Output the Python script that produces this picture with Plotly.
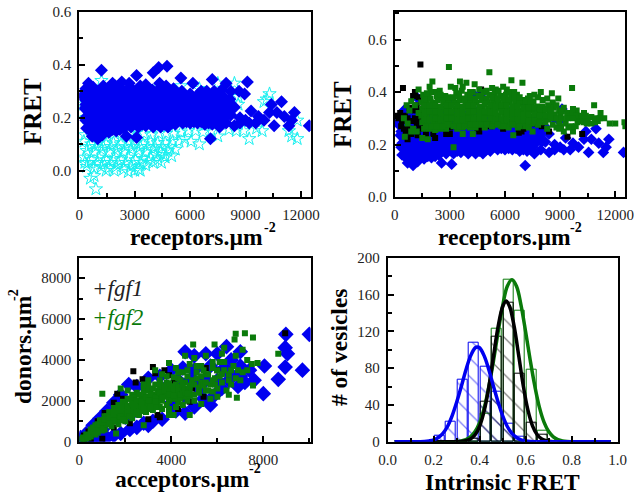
import plotly.graph_objects as go

# ---------- panel A / B shared blue series (receptors, FRET) ----------
blue_rf = [
(1200,.38),(4000,.37),(4300,.39),(4750,.395),(3100,.36),(5500,.35),(6150,.33),(7200,.345),(7950,.33),(9100,.335),
(8650,.30),(8950,.29),(8200,.30),(500,.33),(2300,.335),(1800,.33),(3600,.325),(4350,.33),(12450,.17),(11650,.22),
(11500,.19),(11100,.205),(11350,.17),(10950,.26),(10400,.25),(10700,.22),(10550,.17),(10000,.19),(9700,.205),(9300,.225),
(9550,.18),(9000,.19),(8700,.18),(8400,.17),(8200,.21),(8000,.25),(7100,.12),(2550,.13),(3100,.125),(1000,.12),
(700,.13),(400,.16),(150,.28),(9200,.18),(10300,.22),
(350,.31),(750,.315),(1150,.30),(1550,.31),(1950,.32),(2350,.305),(2750,.315),(3150,.30),(3550,.31),(3950,.305),
(4350,.31),(4750,.30),(5150,.295),(5550,.30),(6000,.29),(6900,.30),(7300,.30),(7700,.305),
(200,.285),(600,.28),(1000,.275),(1400,.285),(1800,.28),(2200,.275),(2600,.285),(3000,.28),(3400,.275),(3800,.285),
(4200,.28),(4600,.275),(5000,.28),(5400,.275),(5800,.28),(6200,.27),(6600,.275),(7000,.28),(7400,.27),(7800,.28),(8150,.27),
(350,.25),(750,.25),(1150,.245),(1550,.255),(1950,.25),(2350,.245),(2750,.255),(3150,.25),(3550,.245),(3950,.255),
(4350,.25),(4750,.245),(5150,.255),(5550,.25),(5950,.245),(6350,.25),(6750,.245),(7150,.25),(7550,.25),(7950,.24),
(550,.22),(950,.22),(1350,.215),(1750,.225),(2150,.22),(2550,.215),(2950,.225),(3350,.22),(3750,.215),(4150,.225),
(4550,.22),(4950,.215),(5350,.225),(5750,.22),(6150,.215),(6550,.225),(6950,.22),(7350,.215),(7750,.22),(8000,.21),
(350,.19),(750,.19),(1150,.19),(1550,.195),(1950,.19),(2350,.185),(2750,.195),(3150,.19),(3550,.185),(3950,.195),
(4350,.19),(4750,.185),(5150,.195),(5550,.19),(5950,.195),(6350,.19),(6750,.195),(7150,.19),(7500,.19),
(800,.16),(1200,.165),(1600,.16),(2000,.165),(2400,.16),(2800,.165),(3200,.165),(3600,.17),(4000,.165),(4400,.165),
(4800,.165),(5200,.175),(5600,.18),(6000,.18),(6400,.18),(6800,.175),(7200,.175),
(1250,.135),(1600,.145),(2000,.15),(900,.14),
(500,.295),(900,.30),(1300,.30),(1700,.295),(2100,.30),(2500,.295),(2900,.30),(3300,.295),(3700,.295),(4100,.295),(4500,.29),(4900,.29),(5300,.285),(5700,.285),(6100,.28),(6450,.29),(6800,.285),(7150,.285),(7550,.29),
(450,.265),(850,.26),(1250,.265),(1650,.265),(2050,.26),(2450,.265),(2850,.265),(3250,.265),(3650,.26),(4050,.265),(4450,.265),(4850,.26),(5250,.265),(5650,.265),(6050,.26),(6450,.26),(6850,.26),(7250,.265),(7650,.26),(8050,.26),
(300,.235),(700,.235),(1100,.23),(1500,.235),(1900,.235),(2300,.23),(2700,.235),(3100,.235),(3500,.23),(3900,.235),(4300,.235),(4700,.23),(5100,.235),(5500,.235),(5900,.23),(6300,.235),(6700,.235),(7100,.235),(7500,.23),(7900,.23),
(400,.205),(800,.205),(1200,.20),(1600,.205),(2000,.205),(2400,.20),(2800,.205),(3200,.205),(3600,.20),(4000,.205),(4400,.205),(4800,.20),(5200,.205),(5600,.205),(6000,.205),(6400,.205),(6800,.205),(7200,.205),(7600,.20),
(600,.175),(1000,.175),(1400,.175),(1800,.175),(2200,.175),(2600,.18),(3000,.18),(3400,.175),(3800,.18),(4200,.18),(4600,.175),(5000,.18),(5400,.19),(5800,.185),(6200,.185),(6600,.185),(7000,.18),(7400,.18),
(1100,.15),(1400,.15),(1800,.155),(2200,.155),(600,.15),
(8400,.24),(8700,.20),(7950,.18),(7600,.165),(1300,.32),(2700,.33),(3300,.32),(4700,.32),(5100,.31),(6600,.30),
]

cyan_rf = [
(1200,.34),(8400,.33),(8600,.25),(10000,.26),(10300,.29),(5500,.32),(6500,.31),(7500,.33),(150,.25),(400,.20),
(100,.22),(600,-.03),(900,-.07),(300,.03),(11500,.13),(11800,.12),(11800,.19),(9200,.12),(9900,.15),(10150,.27),
(9600,.16),(8500,.15),(8100,.155),(8900,.15),(7500,.13),(7150,.15),(6500,.10),(6050,.11),(5700,.12),(5400,.11),
(11350,.15),(8600,.28),(4200,.315),(6900,.175),
(250,.11),(650,.10),(1050,.105),(1450,.10),(1850,.105),(2250,.10),(2650,.11),(3050,.105),(3450,.10),(3850,.11),(4250,.105),(4650,.105),(5050,.11),
(400,.075),(800,.07),(1200,.08),(1600,.07),(2000,.075),(2400,.07),(2800,.08),(3200,.075),(3600,.07),(4000,.08),(4400,.07),(4800,.075),(5200,.08),
(250,.05),(650,.04),(1050,.05),(1450,.04),(1850,.045),(2250,.04),(2650,.05),(3050,.04),(3450,.045),(3850,.05),(4250,.04),(4650,.05),(5000,.055),
(400,.015),(800,.01),(1200,.015),(1600,.01),(2000,.015),(2400,.005),(2800,.015),(3200,.005),(3600,.02),(4000,.03),(4450,.03),
(800,-.02),(1450,.0),(1900,.0),(3000,.0),(2650,-.005),(3300,.0),
(300,.135),(700,.13),(1100,.14),(1500,.135),(1900,.14),(2300,.13),(2700,.14),(3100,.145),(3500,.14),(3900,.135),(4300,.14),(4700,.14),(5100,.14),(5500,.145),(5900,.15),(6300,.15),(6700,.145),
(500,.09),(900,.09),(1300,.09),(1700,.09),(2100,.085),(2500,.09),(2900,.09),(3300,.09),(3700,.09),(4100,.09),(4500,.09),(4900,.09),
(500,.03),(1000,.03),(1300,.03),(1700,.03),(2100,.03),(2500,.03),(2900,.03),(3300,.03),(3750,.035),(4150,.06),(4550,.06),
]

# ---------- panel B ----------
black_rf = [
(1400,.505),(450,.415),(1100,.40),(1000,.385),(4700,.41),(2400,.39),(2200,.225),(3000,.24),(2800,.24),(4600,.25),
(6900,.25),(6750,.245),(8400,.25),(9400,.23),(10200,.24),(3000,.265),(5900,.26),(4700,.27),(100,.31),(200,.30),
(300,.32),(400,.29),(500,.26),(600,.245),(700,.22),(800,.26),(900,.24),(1000,.29),(1100,.30),(1200,.28),
(1300,.30),(1350,.26),(1400,.33),(1450,.36),(1500,.31),(1250,.235),(1050,.25),(700,.30),(550,.31),(350,.27),
(1200,.35),(1300,.38),(1100,.33),(800,.34),(1550,.28),(1700,.24),(2100,.24),(3300,.27),(4500,.26),(5200,.27),
(6000,.28),(7000,.26),(7600,.28),(8000,.27),
]

green_rf = [
(2950,.495),(5150,.475),(1900,.42),(2050,.44),(3550,.44),(3900,.435),(4350,.43),(6350,.445),(6950,.435),(9650,.415),
(5500,.41),(5900,.42),(6100,.41),(7600,.39),(7950,.40),(8550,.395),(8900,.375),(8600,.36),(10850,.35),(11200,.32),
(11400,.30),(11700,.28),(12000,.28),(12500,.285),(12550,.27),(11050,.29),(10700,.28),(10900,.285),(3200,.19),(4250,.24),
(3700,.24),(1500,.225),(1800,.22),(6450,.235),(550,.23),(9700,.25),(9200,.25),(8300,.26),(7500,.25),(8800,.265),
(10000,.29),(10500,.30),(10300,.32),(9900,.33),(9500,.31),(9200,.34),(9700,.335),(10200,.30),(9300,.28),(9600,.27),
(500,.30),(700,.28),(800,.33),(900,.365),(1100,.35),(650,.35),(1000,.26),(1200,.25),(900,.25),(1300,.32),
(1550,.39),(1850,.385),(2150,.40),(2450,.405),(2750,.385),(3050,.42),(3350,.395),(3650,.405),(3950,.39),(4250,.40),(4550,.385),(4850,.40),(5150,.39),(5450,.395),(5750,.385),(6050,.39),(6350,.38),(6650,.39),(6950,.37),(7250,.375),(7550,.365),(8050,.37),
(1450,.36),(1750,.365),(2050,.36),(2350,.37),(2650,.36),(2950,.365),(3250,.36),(3550,.37),(3850,.36),(4150,.365),(4450,.36),(4750,.37),(5050,.36),(5350,.365),(5650,.36),(5950,.365),(6250,.36),(6550,.36),(6850,.355),(7150,.35),(7450,.35),(7750,.345),(8050,.345),(8350,.35),(8650,.34),(8950,.33),
(1500,.335),(1800,.335),(2100,.34),(2400,.33),(2700,.335),(3000,.34),(3300,.335),(3600,.33),(3900,.34),(4200,.335),(4500,.33),(4800,.34),(5100,.335),(5400,.33),(5700,.34),(6000,.335),(6300,.33),(6600,.335),(6900,.33),(7200,.325),(7500,.33),(7800,.32),(8100,.325),(8400,.32),(8700,.315),(9000,.31),
(1450,.31),(1750,.31),(2050,.315),(2350,.305),(2650,.31),(2950,.315),(3250,.31),(3550,.305),(3850,.31),(4150,.315),(4450,.305),(4750,.31),(5050,.315),(5350,.305),(5650,.31),(5950,.305),(6250,.31),(6550,.305),(6850,.31),(7150,.30),(7450,.305),(7750,.30),(8050,.30),(8350,.295),(8650,.30),(8950,.285),
(1500,.285),(1800,.285),(2100,.29),(2400,.28),(2700,.285),(3000,.29),(3300,.285),(3600,.28),(3900,.29),(4200,.285),(4500,.28),(4800,.29),(5100,.285),(5400,.28),(5700,.285),(6000,.28),(6300,.285),(6600,.28),(6900,.285),(7200,.275),(7500,.28),(7800,.275),
(1600,.26),(1900,.26),(2200,.255),(2500,.26),(2800,.26),(3400,.26),(3700,.265),(4100,.265),(4400,.265),(4900,.265),(5300,.27),(5800,.27),(6200,.265),(6700,.265),(7100,.27),
(1600,.375),(1950,.375),(2300,.385),(2600,.375),(2900,.38),(3200,.38),(3500,.385),(3800,.375),(4100,.38),(4400,.375),(4700,.385),(5000,.375),(5300,.38),(5600,.375),(5900,.375),(6200,.37),(6500,.375),(6800,.365),(7100,.365),(7400,.36),
(1600,.35),(1900,.35),(2200,.35),(2500,.345),(2800,.35),(3100,.35),(3400,.35),(3700,.345),(4000,.35),(4300,.35),(4600,.345),(4900,.355),(5200,.35),(5500,.345),(5800,.35),(6100,.35),(6400,.345),(6700,.345),(7000,.34),(7300,.34),(7600,.34),(7900,.33),(8200,.335),(8500,.33),
(1600,.32),(1900,.325),(2200,.325),(2500,.32),(2800,.325),(3100,.325),(3400,.32),(3700,.32),(4000,.325),(4300,.325),(4600,.32),(4900,.325),(5200,.32),(5500,.32),(5800,.325),(6100,.32),(6400,.32),(6700,.32),(7000,.315),(7300,.315),(7600,.315),(7900,.31),(8200,.31),(8500,.305),(8800,.30),
(1600,.295),(1900,.295),(2200,.30),(2500,.295),(2800,.30),(3100,.30),(3400,.295),(3700,.295),(4000,.30),(4300,.295),(4600,.295),(4900,.30),(5200,.30),(5500,.295),(5800,.295),(6100,.295),(6400,.295),(6700,.295),(7000,.295),(7300,.29),(7600,.29),(7900,.285),(8200,.285),
(1700,.27),(2000,.27),(2300,.27),(2600,.27),(2900,.275),(3200,.27),(3500,.27),(3800,.27),(4100,.275),(4400,.275),(4700,.275),(5000,.275),(5300,.27),(5600,.275),(5900,.27),(6400,.275),(6800,.27),(7300,.265),
(3300,.415),(3700,.42),(4100,.40),(4600,.41),(5000,.405),(5300,.415),(5650,.405),(6250,.40),(6500,.40),(6800,.38),(7350,.385),(7800,.38),(8300,.375),(8800,.35),
(9100,.325),(9400,.32),(9650,.32),(9900,.31),(10150,.31),(10400,.31),(10700,.305),(10950,.30),(11150,.30),(9100,.30),(9400,.30),(9700,.30),(9950,.285),(10300,.285),(9050,.27),(9450,.265),(8600,.275),(8950,.26),(9850,.27),(10450,.28),
(1300,.41),(1950,.40),(2500,.39),(1750,.395),
]

# ---------- panel C (acceptors, donors) ----------
blue_ad = [
(8000,2350),(8050,3700),(8650,3050),(8950,3650),(8950,4600),(8980,5250),(9050,4300),(9700,3500),(10000,5250),(2150,2800),
(4600,4400),(6400,4650),(6600,4000),(7400,3500),(7600,3000),(6500,3000),(5700,1800),(4600,1400),(3000,800),(2500,700),
(1800,400),(1200,200),(600,100),(100,100),(0,0),(50,200),(300,400),(600,800),(900,1150),(1200,1500),
(1500,1900),(1800,2300),(2500,2700),(3000,3100),(3500,3200),(4000,3500),(5000,4200),(5500,4300),(6000,4300),(7000,4400),
(7000,3200),(6200,2600),(5400,2100),(5000,1700),(4200,1500),(3600,1100),(2200,600),(1500,300),(900,150),(400,80),
(7200,2900),(6900,2700),(5900,2300),(3200,1000),(2800,900),(3800,2700),(4800,3000),(5500,3000),(1000,600),(2000,1200),
(6300,3600),(5700,3700),(5000,3500),(4300,3000),(3600,2400),(3000,1800),(2400,1500),(6600,3300),(6000,3000),(5300,2500),(4600,2200),(4000,1900),(5000,2800),(7000,3700),(4500,3600),
]

black_ad = [
(2350,3450),(1650,2350),(3200,3650),(3700,3500),(3900,3250),(4800,1950),(3500,1200),(5500,3600),(8950,5300),(1000,150),
(1300,1100),(600,600),(2750,3050),(3300,3350),(2450,2900),(1900,2100),(1500,1900),(1100,1400),(800,1000),(400,500),
(200,300),(500,150),(2200,900),(3000,1100),(3400,1300),(4300,1600),(5400,2200),(4900,2600),(4100,2900),(200,100),
(6000,3500),(2500,1500),(1500,700),
]

green_ad = [
(1000,2350),(1800,2600),(2100,2500),(4950,4750),(5880,4750),(6800,5280),(7200,5300),(7550,5100),(6750,5000),(6300,4600),
(7100,4500),(8650,4300),(3900,3850),(4200,3600),(4600,4200),(5000,4100),(5500,4200),(7300,4000),(7750,3850),(7500,3800),
(7300,3500),(6900,3500),(7000,3000),(7550,2750),(6850,2150),(6500,2300),(6000,2200),(5300,1850),(4800,1300),(4100,1300),
(3900,1300),(2800,800),(1600,400),(6200,4300),(6800,4200),(5800,3900),(5300,3700),(4800,3800),(6300,3900),(6700,3700),
(6000,3500),(5500,3300),(5100,3400),(4500,3400),(4300,3100),(3600,3300),(3300,3500),(3000,3000),(7100,3400),(6500,3300),
(6600,2800),(6200,2900),(5700,2800),(5300,2900),(4900,3000),(4600,2900),(4200,2800),(3800,2900),(3500,2700),(6000,2600),
(5500,2500),(5200,2400),(4800,2500),(4500,2400),(4200,2300),(3800,2400),(5700,2100),(5000,2000),(4700,2000),(4300,1900),
(3900,2000),(3500,2200),(3100,2500),(2800,2600),(2500,2400),(2300,2300),(2100,2100),(1900,1950),(1700,1800),(1500,1650),
(1300,1450),(1100,1250),(900,1050),(700,800),(500,600),(300,350),(150,200),(300,150),(500,250),(800,450),
(1100,600),(1400,750),(1700,850),(2000,1000),(2300,1150),(2600,1300),(2900,1450),(3200,1550),(3500,1700),(3800,1800),
(2700,2100),(3000,2200),(3300,2300),(2600,1800),(2900,1900),(3200,2000),(2300,1700),(2000,1500),(1700,1300),(1400,1100),
(1100,850),(800,650),(2300,2000),(2000,1800),(1700,1550),(1400,1300),(1200,1000),(900,800),(3600,2000),(3400,1800),
(2600,1550),(2200,1350),(1900,1200),(1600,1000),(600,400),(400,300),(2900,1650),(3200,1800),
(1000,1050),(1200,1250),(1400,1450),(1600,1650),(1800,1700),(2000,1900),(2200,2100),(2400,2150),(2600,2300),(2800,2350),(3000,2500),(3200,2600),(3400,2500),(3600,2600),(3800,2650),(4000,2700),(4200,2500),(4400,2700),(4600,2600),(4800,2750),
(1000,750),(1200,850),(1400,950),(1600,1150),(1800,1350),(2000,1300),(2200,1500),(2400,1600),(2600,1650),(2800,1750),(3000,1800),(3200,2200),(3400,2050),(3600,2300),(3800,2200),(4000,2100),(4200,2100),(4400,2100),(4600,2200),(4800,2250),
(700,550),(500,450),(350,250),(200,150),(100,120),(600,700),(800,850),(1000,950),(1200,1150),(1500,1250),(1800,1050),(2100,1250),(2400,1350),(2700,1500),(3000,1600),(3300,1700),(3600,1600),(3900,1600),(4200,1700),(4500,1800),
(5000,2300),(5200,2650),(5000,2800),(5400,2750),(5600,2500),(5800,2450),(5900,3100),(5600,3300),(5300,3200),(4700,3200),(4400,3000),(4100,3150),(3800,3200),(3500,3000),(3300,2800),(3000,2750),(2800,2800),(6400,2500),(6300,3500),(6800,3100),
(1100,1100),(1300,1200),(1500,1400),(1700,1500),(1900,1650),(2100,1750),(2300,1850),(2500,2000),(2700,1950),(2900,2150),(3100,2300),(3300,2150),(3500,2400),(3700,2500),(3900,2450),(4100,2500),(4300,2400),(1500,1050),(1800,1250),(2100,1400),
(2400,1800),(2700,1700),(3000,2000),(3300,1950),(3600,2150),(3900,2300),(4100,2250),(4400,2300),(4600,2400),(3100,1700),(2800,1600),(2500,1450),(2200,1250),(1900,1100),(1300,900),(1000,550),(700,350),(400,200),(4500,2550),(4700,2350),
(3500,2850),(3700,2750),(3900,2850),(4100,2700),(4300,2650),(4500,2800),(5100,3100),(5500,2900),(5800,3000),(6100,3200),(6500,3000),(5900,2800),(5400,3500),(5800,3600),(6100,3900),(5100,3700),(4700,3500),(4300,3400),(6600,3500),(6200,3300),
]

# ---------- panel D ----------
hist_x = [.225,.275,.325,.375,.425,.475,.525,.575,.625,.675]
hist_blue = [6,22,67,108,81,54,20,5,0,0]
hist_black = [0,0,0,3,44,114,151,74,21,8]
hist_green = [0,0,0,0,30,123,176,142,78,12]

fit_x_blue = [.03,.10,.16,.18,.20,.22,.24,.26,.28,.30,.32,.34,.36,.38,.39,.40,.42,.44,.46,.48,.50,.52,.54,.56,.58,.60,.62,.66,.97]
fit_y_blue = [0,0,.3,.9,2,4.5,9,16.5,28,43,60,78,93,102,103,102,93,78,60,43,28,16.5,9,4.5,2,.9,.3,0,0]
fit_x_black = [.03,.28,.32,.34,.36,.38,.40,.42,.44,.46,.48,.50,.515,.53,.55,.57,.59,.61,.63,.65,.67,.69,.71,.75,.97]
fit_y_black = [0,0,.3,1,2.9,7.5,17,34,60,93,125,147,153,147,125,93,60,34,17,7.5,2.9,1,.3,0,0]
fit_x_green = [.03,.26,.30,.32,.34,.36,.38,.40,.42,.44,.46,.48,.50,.52,.54,.56,.58,.60,.62,.64,.66,.68,.70,.72,.74,.76,.78,.82,.97]
fit_y_green = [0,0,.3,.9,2.3,5.3,11,21,37,60,88,119,148,169,176,169,148,119,88,60,37,21,11,5.3,2.3,.9,.3,0,0]

W, H = 634, 498
TXT = "#222222"
SERIF = "Liberation Serif"
BLUE, CYAN, GREEN, BLACK = "#0000f0", "#18f0f0", "#0a7a0a", "#000000"


def xs(p):
    return [a for a, _ in p]


def ys(p):
    return [b for _, b in p]


def dom_x(a, b):
    return [a / W, b / W]


def dom_y(top, bot):
    return [1 - bot / H, 1 - top / H]


fig = go.Figure()


def scatter(p, ax, symbol, size, color, line=0):
    fig.add_trace(go.Scatter(x=xs(p), y=ys(p), xaxis=f"x{ax}", yaxis=f"y{ax}", mode="markers", showlegend=False,
                             marker=dict(symbol=symbol, size=size, color=color, line=dict(width=line, color=color))))


scatter(cyan_rf, "", "star-open", 10, CYAN, 1)
scatter(blue_rf, "", "diamond", 10, BLUE)
scatter(blue_rf, "2", "diamond", 9, BLUE)
scatter(black_rf, "2", "square", 6, BLACK)
scatter(green_rf, "2", "square", 6, GREEN)
scatter(blue_ad, "3", "diamond", 12, BLUE)
scatter(black_ad, "3", "square", 6, BLACK)
scatter(green_ad, "3", "square", 6, GREEN)


def bars(vals, color, hatch):
    pat = dict(shape="\\", fgcolor=color, bgcolor="rgba(0,0,0,0)", size=13, solidity=0.1) if hatch else dict(shape="")
    fig.add_trace(go.Bar(x=hist_x, y=vals, width=.042, xaxis="x4", yaxis="y4", showlegend=False,
                         marker=dict(color="rgba(0,0,0,0)", line=dict(color=color, width=1), pattern=pat)))


bars(hist_blue, BLUE, True)
bars(hist_green, GREEN, False)
bars(hist_black, BLACK, True)
for fx, fy, c in [(fit_x_green, fit_y_green, GREEN), (fit_x_black, fit_y_black, BLACK), (fit_x_blue, fit_y_blue, BLUE)]:
    fig.add_trace(go.Scatter(x=fx, y=fy, xaxis="x4", yaxis="y4", mode="lines", showlegend=False,
                             line=dict(color=c, width=3.5, shape="spline")))


def axis(domain, rng, dtick, anchor, tickfmt="d"):
    return dict(domain=domain, range=rng, dtick=dtick, tick0=0, anchor=anchor, showgrid=False, zeroline=False,
                automargin=False, showline=True, mirror=True, linecolor="black", linewidth=2, ticks="inside", ticklen=6,
                tickwidth=1.5, tickcolor="black", tickfont=dict(family=SERIF, size=15, color=TXT), tickformat=tickfmt,
                ticklabelstandoff=3, ticklabeloverflow="allow",
                minor=dict(dtick=dtick / 2, tick0=0, ticks="inside", ticklen=4, tickwidth=1.5, tickcolor="black", showgrid=False))


def label(text, px, py, size=23.5, rot=0, bold=True, color="black", italic=False, anchor="center"):
    font = dict(family=SERIF, size=size, color=color)
    if bold:
        font["weight"] = "bold"
    if italic:
        font["style"] = "italic"
    return dict(text=text, x=px / W, y=1 - py / H, xref="paper", yref="paper", xanchor=anchor, yanchor="middle",
                textangle=rot, showarrow=False, font=font, borderpad=0)


UM = "\u00b5m"
fig.update_layout(
    width=W, height=H, margin=dict(l=0, r=0, t=0, b=0), paper_bgcolor="white", plot_bgcolor="white",
    barmode="overlay", bargap=0,
    xaxis=axis(dom_x(79.3, 310.7), [0, 12530], 3000, "y"),
    yaxis=axis(dom_y(12, 197), [-.1, .6], .2, "x", ".1f"),
    xaxis2=axis(dom_x(394.7, 625), [0, 12530], 3000, "y2"),
    yaxis2=axis(dom_y(12, 197), [0, .705], .2, "x2", ".1f"),
    xaxis3=axis(dom_x(79.3, 310.7), [0, 10060], 4000, "y3"),
    yaxis3=axis(dom_y(257.7, 441.7), [0, 9000], 2000, "x3"),
    xaxis4=axis(dom_x(387.7, 617.7), [0, 1], .2, "y4", ".1f"),
    yaxis4=axis(dom_y(257.7, 441.7), [0, 200], 40, "x4"),
    annotations=[
        label(f"receptors.{UM}", 196, 237), label("-2", 270, 227, 14),
        label("FRET", 32, 112, 25, -90),
        label(f"receptors.{UM}", 504, 237), label("-2", 576, 227, 14),
        label("FRET", 343, 115, 25, -90),
        label(f"acceptors.{UM}", 182, 479), label("-2", 255, 468, 14),
        label(f"donors.{UM}", 23, 350, 23.5, -90), label("-2", 13, 295, 14, -90),
        label("Intrinsic FRET", 502, 482), label("# of vesicles", 339, 348, 23.5, -90),
        label("+fgf1", 91, 288, 23, bold=False, color="#222222", italic=True, anchor="left"),
        label("+fgf2", 91, 317, 23, bold=False, color=GREEN, italic=True, anchor="left"),
    ],
)
fig.write_html("out.html", config=dict(displayModeBar=False), post_script="document.body.style.margin='0';")
